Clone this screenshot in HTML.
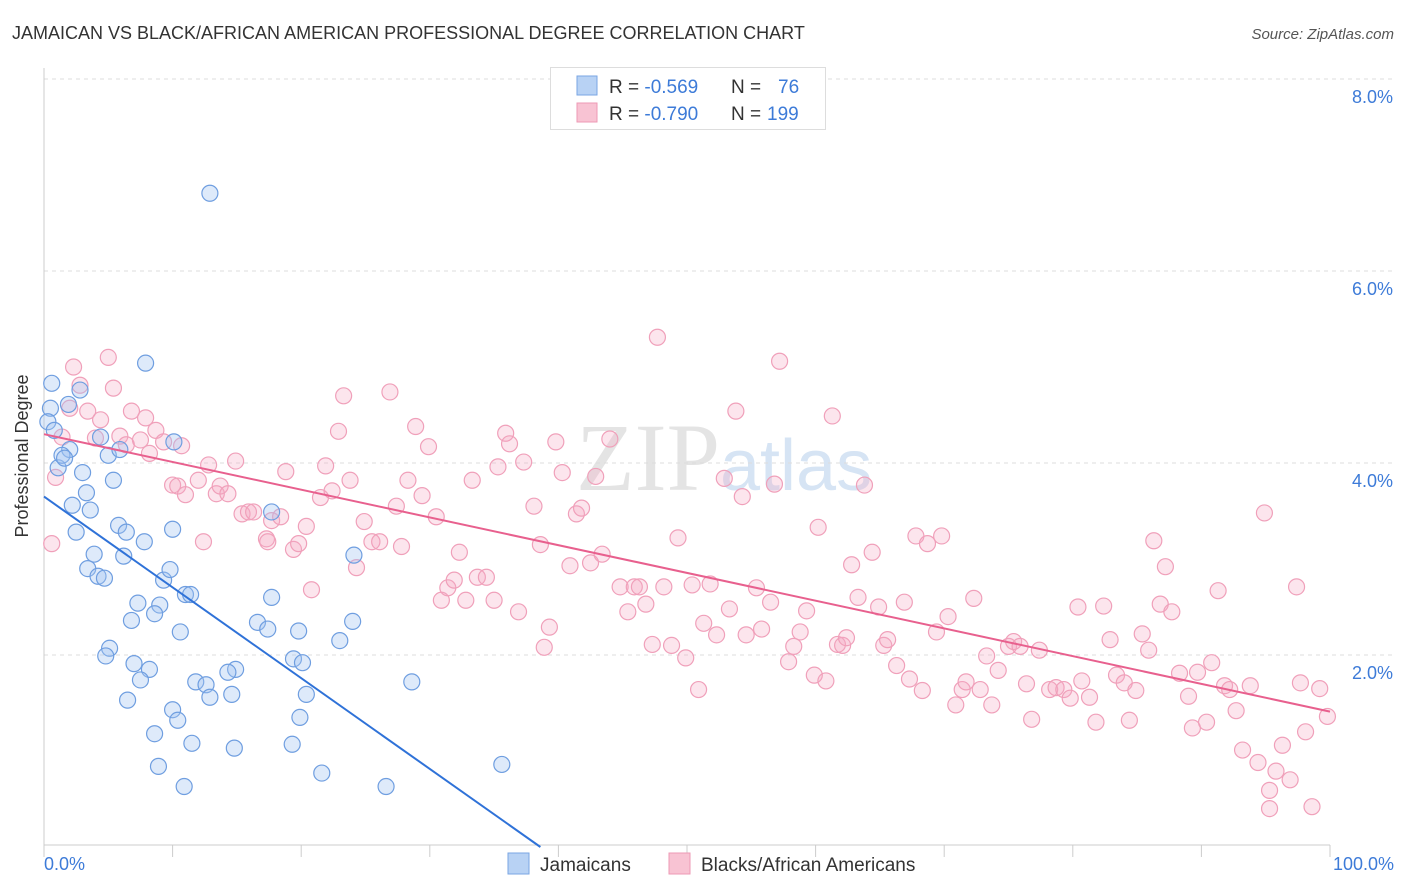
<!DOCTYPE html>
<html><head><meta charset="utf-8">
<style>
body{margin:0;background:#fff;font-family:"Liberation Sans",sans-serif;}
svg{display:block}
</style></head>
<body>
<svg id="chart" width="1406" height="892" xmlns="http://www.w3.org/2000/svg">
<text x="12" y="39" font-size="18" fill="#333">JAMAICAN VS BLACK/AFRICAN AMERICAN PROFESSIONAL DEGREE CORRELATION CHART</text>
<text x="1394" y="39" font-size="15" fill="#555" font-style="italic" text-anchor="end">Source: ZipAtlas.com</text>
<text x="720" y="490" font-size="96" fill="#e4e4e4" font-family="Liberation Serif,serif" text-anchor="end">ZIP</text>
<text x="720" y="490" font-size="72" fill="#d6e4f4">atlas</text>
<g id="grid"></g>
<line x1="44" y1="68" x2="44" y2="845" stroke="#ccc" stroke-width="1"/>
<line x1="44" y1="845" x2="1330" y2="845" stroke="#ccc" stroke-width="1"/>
<g id="xticks"></g>
<text x="28" y="456" font-size="18" fill="#333" text-anchor="middle" transform="rotate(-90 28 456)">Professional Degree</text>
<text x="44" y="870" font-size="18" fill="#3d7bd8">0.0%</text>
<text x="1394" y="870" font-size="18" fill="#3d7bd8" text-anchor="end">100.0%</text>
<g id="pink"></g><g id="blue"></g><g id="lines"></g>
<g>
<rect x="550.5" y="67.5" width="275" height="62" fill="#fff" stroke="#ddd"/>
<rect x="577" y="76" width="20" height="19" fill="#b8d2f4" stroke="#7aa6e3"/>
<rect x="577" y="103" width="20" height="19" fill="#f8c3d3" stroke="#ee9ab4"/>
<text x="609" y="93" font-size="19" fill="#333">R = <tspan fill="#3d7bd8">-0.569</tspan><tspan x="731">N = </tspan><tspan x="778" fill="#3d7bd8">76</tspan></text>
<text x="609" y="120" font-size="19" fill="#333">R = <tspan fill="#3d7bd8">-0.790</tspan><tspan x="731">N = </tspan><tspan x="767" fill="#3d7bd8">199</tspan></text>
</g>
<g>
<rect x="508" y="853" width="21" height="21" fill="#b8d2f4" stroke="#7aa6e3"/>
<text x="540" y="871" font-size="19" fill="#333">Jamaicans</text>
<rect x="669" y="853" width="21" height="21" fill="#f8c3d3" stroke="#ee9ab4"/>
<text x="701" y="871" font-size="19" fill="#333">Blacks/African Americans</text>
</g>
</svg>
<script>
const yTicks=[2,4,6,8];
const yTickLabels=["2.0%","4.0%","6.0%","8.0%"];
const xTicks=[0,10,20,30,40,50,60,70,80,90,100];
const blueX=[0.6,0.5,0.3,0.8,1.1,1.9,2.0,1.4,1.6,2.8,3.0,3.3,2.2,3.6,4.4,5.0,5.4,2.5,5.8,6.4,7.8,3.9,6.2,3.4,4.2,4.7,9.3,9.8,11.0,11.4,7.3,9.0,8.6,6.8,10.6,5.1,4.8,7.0,8.2,7.5,11.8,14.9,14.3,12.6,6.5,10.0,10.4,12.9,14.6,11.5,8.6,14.8,8.9,10.9,16.6,17.4,17.7,19.8,19.4,20.1,20.4,19.9,19.3,23.0,24.0,24.1,21.6,26.6,28.6,35.6,12.9,7.9,10.0,17.7,10.1,5.9];
const blueY=[4.83,4.57,4.43,4.34,3.95,4.61,4.14,4.08,4.05,4.76,3.90,3.69,3.56,3.51,4.27,4.08,3.82,3.28,3.35,3.28,3.18,3.05,3.03,2.90,2.82,2.80,2.78,2.89,2.63,2.63,2.54,2.52,2.43,2.36,2.24,2.07,1.99,1.91,1.85,1.74,1.72,1.85,1.82,1.69,1.53,1.43,1.32,1.56,1.59,1.08,1.18,1.03,0.84,0.63,2.34,2.27,2.60,2.25,1.96,1.92,1.59,1.35,1.07,2.15,2.35,3.04,0.77,0.63,1.72,0.86,6.81,5.04,3.31,3.49,4.22,4.14];
const pinkX=[0.6,0.9,1.4,2.3,2.8,2.0,3.4,4.0,4.4,5.0,5.4,5.9,6.4,6.8,7.5,7.9,8.2,8.7,9.3,10.0,10.4,10.7,11.0,12.0,12.4,12.8,13.4,13.7,14.3,14.9,15.4,15.9,16.3,17.3,17.7,17.4,18.4,18.8,19.4,19.8,20.4,20.8,21.5,21.9,22.4,22.9,23.3,23.8,24.3,24.9,25.5,26.1,26.9,27.4,27.8,28.3,28.9,29.4,29.9,30.5,30.9,31.4,31.9,32.3,32.8,33.3,33.7,34.4,35.0,35.3,35.9,36.2,36.9,37.3,38.1,38.6,38.9,39.3,39.8,40.3,40.9,41.4,41.8,42.5,42.9,43.4,44.0,44.8,45.4,45.9,46.3,46.8,47.3,47.7,48.2,48.8,49.3,49.9,50.4,50.9,51.3,51.8,52.3,52.9,53.3,53.8,54.3,54.6,55.4,55.8,56.5,56.8,57.2,57.9,58.3,58.8,59.3,59.9,60.2,60.8,61.3,61.7,62.1,62.4,62.8,63.3,63.8,64.4,64.9,65.3,65.6,66.3,66.9,67.3,67.8,68.3,68.7,69.4,69.8,70.3,70.9,71.4,71.7,72.3,72.8,73.3,73.7,74.2,75.0,75.4,75.9,76.4,76.8,77.4,78.2,78.7,79.3,79.8,80.4,80.7,81.3,81.8,82.4,82.9,83.4,84.0,84.4,84.9,85.4,85.9,86.3,86.8,87.2,87.7,88.3,89.0,89.3,89.7,90.4,90.8,91.3,91.8,92.2,92.7,93.2,93.8,94.4,94.9,95.3,95.8,96.3,96.9,97.4,97.7,98.1,98.6,99.2,99.8,95.3];
const pinkY=[3.16,3.85,4.27,5.00,4.81,4.57,4.54,4.26,4.45,5.10,4.78,4.28,4.19,4.54,4.24,4.47,4.10,4.34,4.22,3.77,3.76,4.18,3.67,3.82,3.18,3.98,3.68,3.76,3.68,4.02,3.47,3.49,3.49,3.21,3.40,3.18,3.44,3.91,3.10,3.16,3.34,2.68,3.64,3.97,3.71,4.33,4.70,3.82,2.91,3.39,3.18,3.18,4.74,3.55,3.13,3.82,4.38,3.66,4.17,3.44,2.57,2.70,2.78,3.07,2.57,3.82,2.81,2.81,2.57,3.96,4.31,4.20,2.45,4.01,3.55,3.15,2.08,2.29,4.22,3.90,2.93,3.47,3.53,2.96,3.86,3.05,4.25,2.71,2.45,2.71,2.71,2.53,2.11,5.31,2.71,2.10,3.22,1.97,2.73,1.64,2.33,2.74,2.21,3.84,2.48,4.54,3.65,2.21,2.70,2.27,2.55,3.78,5.06,1.93,2.09,2.24,2.46,1.79,3.33,1.73,4.49,2.11,2.10,2.18,2.94,2.60,3.77,3.07,2.50,2.10,2.16,1.89,2.55,1.75,3.24,1.63,3.16,2.24,3.24,2.40,1.48,1.64,1.72,2.59,1.64,1.99,1.48,1.84,2.09,2.14,2.09,1.70,1.33,2.05,1.64,1.66,1.64,1.55,2.50,1.73,1.56,1.30,2.51,2.16,1.79,1.71,1.32,1.63,2.22,2.05,3.19,2.53,2.92,2.45,1.81,1.57,1.24,1.82,1.30,1.92,2.67,1.68,1.64,1.42,1.01,1.68,0.88,3.48,0.59,0.79,1.06,0.70,2.71,1.71,1.20,0.42,1.65,1.36,0.40];
const blueTrendX=[0,38.6];
const blueTrendY=[3.65,0];
const pinkTrendX=[0,100];
const pinkTrendY=[4.3,1.41];

const NS="http://www.w3.org/2000/svg";
const xs=v=>44+v*12.86;
const ys=v=>847-v*96;
function mk(tag,attrs,parent){const e=document.createElementNS(NS,tag);for(const k in attrs)e.setAttribute(k,attrs[k]);document.getElementById(parent).appendChild(e);return e;}
yTicks.forEach((t,i)=>{
  const l=mk('line',{x1:44,x2:1394,y1:ys(t),y2:ys(t),stroke:'#ddd','stroke-dasharray':'4,4'},'grid');
  
  
  const tx=mk('text',{x:1393,y:ys(t)+24,'font-size':18,fill:'#3d7bd8','text-anchor':'end'},'grid');
  tx.textContent=yTickLabels[i];
  
  
});
xTicks.forEach(t=>{
  const l=mk('line',{x1:xs(t),x2:xs(t),y1:845,y2:857,stroke:'#ccc'},'xticks');
  
  
});
pinkX.forEach((x,i)=>{
  const c=mk('circle',{cx:xs(x),cy:ys(pinkY[i]),r:8,fill:'rgba(246,170,195,0.3)',stroke:'#f0a0ba','stroke-width':1.2},'pink');
  
  
});
blueX.forEach((x,i)=>{
  const c=mk('circle',{cx:xs(x),cy:ys(blueY[i]),r:8,fill:'rgba(160,195,240,0.35)',stroke:'#6f9ee0','stroke-width':1.2},'blue');
  
  
});
const bl=mk('line',{x1:xs(blueTrendX[0]),y1:ys(blueTrendY[0]),x2:xs(blueTrendX[1]),y2:ys(blueTrendY[1]),stroke:'#2f72d8','stroke-width':2},'lines');


const pl=mk('line',{x1:xs(pinkTrendX[0]),y1:ys(pinkTrendY[0]),x2:xs(pinkTrendX[1]),y2:ys(pinkTrendY[1]),stroke:'#e8608e','stroke-width':2},'lines');


</script>
</body></html>
